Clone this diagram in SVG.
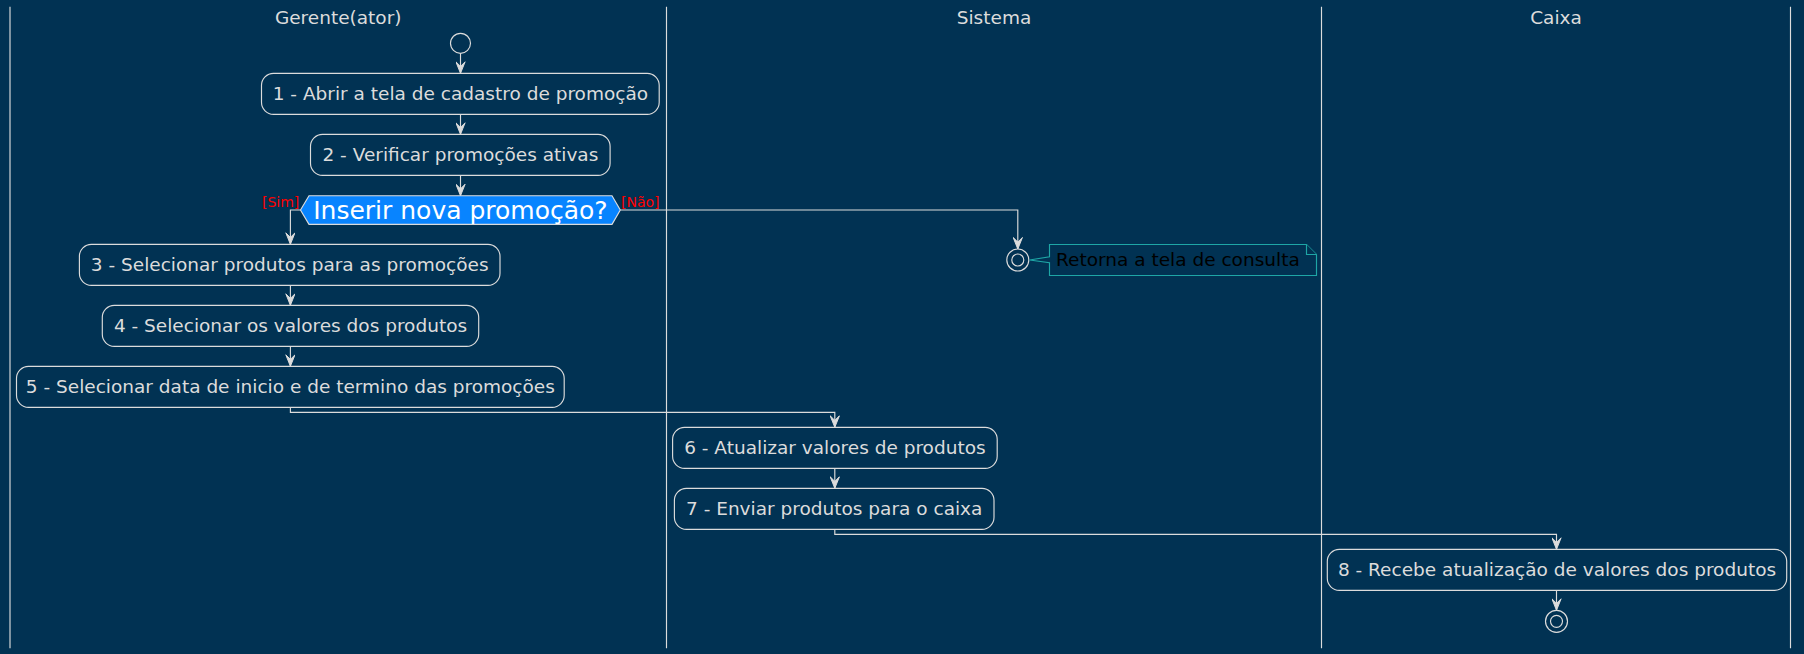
<svg xmlns="http://www.w3.org/2000/svg" width="1804" height="654" viewBox="0 0 1804 654">
<style>
text{font-family:"DejaVu Sans","Liberation Sans",sans-serif}
.bg{fill:#013253}
.lane{stroke:#dcdcdc;stroke-width:1.15;fill:none}
.title{font-size:18.5px;fill:#dcdcdc;text-anchor:middle}
.box{fill:#013253;stroke:#dcdcdc;stroke-width:1.15}
.bt{font-size:18.5px;fill:#dcdcdc;text-anchor:middle}
.edge{stroke:#dcdcdc;stroke-width:1.15;fill:none}
.lbl{font-size:14px;fill:#ff0000}
.circ{fill:#013253;stroke:#dcdcdc;stroke-width:1.15}
.dec{fill:#0884ff;stroke:#dcdcdc;stroke-width:1.15}
.dt{font-size:25px;fill:#ffffff;text-anchor:middle}
.note{fill:#013253;stroke:#1ea6a6;stroke-width:1.15}
.nt{font-size:18.5px;fill:#000000}
</style>
<defs>
<marker id="arr" viewBox="-12 -5 13 10" refX="0" refY="0" markerWidth="13" markerHeight="10" markerUnits="userSpaceOnUse" orient="auto">
<path d="M0,0 L-11.5,-4.6 L-6.9,0 L-11.5,4.6 Z" fill="#dcdcdc" stroke="#dcdcdc" stroke-width="1"/>
</marker>
</defs>
<rect class="bg" x="0" y="0" width="1804" height="654"/>
<g id="lanes">
<line class="lane" x1="10" y1="6.7" x2="10" y2="648.3"/>
<line class="lane" x1="666.5" y1="6.7" x2="666.5" y2="648.3"/>
<line class="lane" x1="1321.5" y1="6.7" x2="1321.5" y2="648.3"/>
<line class="lane" x1="1790.5" y1="6.7" x2="1790.5" y2="648.3"/>
<text class="title" x="338.2" y="24.3">Gerente(ator)</text>
<text class="title" x="994" y="24.3">Sistema</text>
<text class="title" x="1556" y="24.3">Caixa</text>
</g>
<g id="connectors">
<path class="edge" d="M460.5,53.3 V73.3" marker-end="url(#arr)"/>
<path class="edge" d="M460.5,114.3 V134.3" marker-end="url(#arr)"/>
<path class="edge" d="M460.5,175.3 V195.7" marker-end="url(#arr)"/>
<path class="edge" d="M300.5,210 H290.4 V244.3" marker-end="url(#arr)"/>
<path class="edge" d="M620.3,210 H1017.8 V249" marker-end="url(#arr)"/>
<path class="edge" d="M290.4,285.3 V305.3" marker-end="url(#arr)"/>
<path class="edge" d="M290.4,346.3 V366.3" marker-end="url(#arr)"/>
<path class="edge" d="M290.4,407.3 V412.3 H834.8 V427.3" marker-end="url(#arr)"/>
<path class="edge" d="M834.8,468.3 V488.3" marker-end="url(#arr)"/>
<path class="edge" d="M834.8,529.3 V534.3 H1556.5 V549.3" marker-end="url(#arr)"/>
<path class="edge" d="M1556.5,590.3 V610.3" marker-end="url(#arr)"/>
<text class="lbl" x="299.3" y="206.7" text-anchor="end">[Sim]</text>
<text class="lbl" x="621" y="206.7">[Não]</text>
</g>
<g id="start">
<circle class="circ" cx="460.5" cy="43.3" r="10"/>
</g>
<g id="n1">
<rect class="box" x="261.5" y="73.3" width="397.7" height="41" rx="12" ry="12"/>
<text class="bt" x="460.4" y="99.6">1 - Abrir a tela de cadastro de promoção</text>
</g>
<g id="n2">
<rect class="box" x="310.5" y="134.3" width="299.6" height="41" rx="12" ry="12"/>
<text class="bt" x="460.4" y="160.6">2 - Verificar promoções ativas</text>
</g>
<g id="decision">
<polygon class="dec" points="300.5,210 309,195.7 612,195.7 620.3,210 612,224.3 309,224.3"/>
<text class="dt" x="460.4" y="218.6">Inserir nova promoção?</text>
</g>
<g id="stop1">
<circle class="circ" cx="1017.8" cy="260" r="11"/>
<circle class="circ" cx="1017.8" cy="260" r="6"/>
</g>
<g id="note">
<path class="note" d="M1049.5,244.5 H1306.5 L1316.5,254.5 V275.5 H1049.5 V262.7 L1029.5,260 L1049.5,256.7 Z"/>
<path class="note" d="M1306.5,244.5 V254.5 H1316.5" fill="none"/>
<text class="nt" x="1056" y="265.5">Retorna a tela de consulta</text>
</g>
<g id="n3">
<rect class="box" x="79.4" y="244.3" width="420.6" height="41" rx="12" ry="12"/>
<text class="bt" x="289.7" y="270.6">3 - Selecionar produtos para as promoções</text>
</g>
<g id="n4">
<rect class="box" x="102.3" y="305.3" width="376.4" height="41" rx="12" ry="12"/>
<text class="bt" x="290.5" y="331.6">4 - Selecionar os valores dos produtos</text>
</g>
<g id="n5">
<rect class="box" x="16.5" y="366.3" width="547.7" height="41" rx="12" ry="12"/>
<text class="bt" x="290.35" y="392.6">5 - Selecionar data de inicio e de termino das promoções</text>
</g>
<g id="n6">
<rect class="box" x="672.6" y="427.3" width="324.6" height="41" rx="12" ry="12"/>
<text class="bt" x="834.9" y="453.6">6 - Atualizar valores de produtos</text>
</g>
<g id="n7">
<rect class="box" x="674.4" y="488.3" width="319.6" height="41" rx="12" ry="12"/>
<text class="bt" x="834.2" y="514.6">7 - Enviar produtos para o caixa</text>
</g>
<g id="n8">
<rect class="box" x="1327.3" y="549.3" width="459.4" height="41" rx="12" ry="12"/>
<text class="bt" x="1557" y="575.6">8 - Recebe atualização de valores dos produtos</text>
</g>
<g id="stop2">
<circle class="circ" cx="1556.5" cy="621.3" r="11"/>
<circle class="circ" cx="1556.5" cy="621.3" r="6"/>
</g>
</svg>
